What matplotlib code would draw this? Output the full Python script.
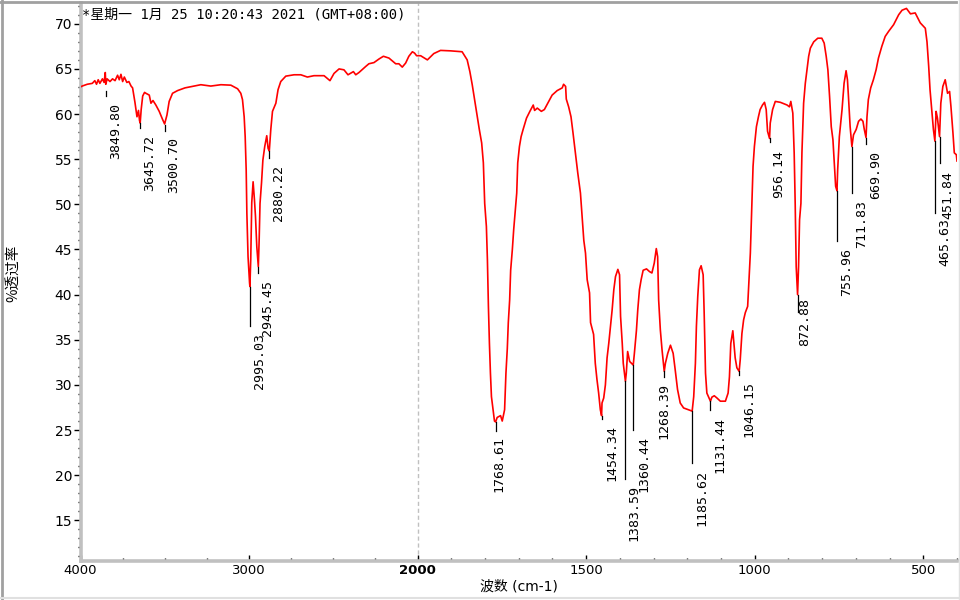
import numpy as np
import matplotlib
matplotlib.use("Agg")
import matplotlib.pyplot as plt
from matplotlib.lines import Line2D

plt.rcParams['font.family'] = ['DejaVu Sans', 'Noto Sans CJK SC']

# IR spectrum: wavenumber (cm-1) and %T
wavenumber = [
    4000, 3990, 3960, 3930, 3915, 3905, 3895, 3885, 3870, 3860, 3853, 3850,
    3842, 3825, 3810, 3795, 3780, 3770, 3760, 3750, 3740, 3725, 3713, 3700,
    3691, 3677, 3665, 3656, 3650, 3646, 3640, 3631, 3620, 3612, 3592, 3582,
    3570, 3553, 3533, 3513, 3501, 3487, 3474, 3454, 3424, 3380, 3327, 3286,
    3227, 3167, 3108, 3068, 3049, 3039, 3029, 3023, 3017, 3013, 3006, 2997,
    2995, 2990, 2984, 2976, 2968, 2962, 2954, 2945, 2940, 2935, 2926, 2918,
    2907, 2895, 2887, 2880, 2871, 2861, 2841, 2828, 2812, 2782, 2733, 2693,
    2654, 2615, 2555, 2520, 2496, 2466, 2437, 2413, 2381, 2367, 2348, 2308,
    2289, 2259, 2229, 2203, 2170, 2130, 2111, 2091, 2071, 2052, 2031, 2018,
    2006, 1991, 1971, 1952, 1932, 1902, 1868, 1853, 1845, 1838, 1831, 1823,
    1817, 1810, 1805, 1801, 1796, 1793, 1790, 1787, 1784, 1781, 1776, 1772,
    1768.6, 1764, 1754, 1749, 1742, 1738, 1734, 1731, 1727, 1724, 1719, 1715,
    1710, 1706, 1703, 1698, 1693, 1687, 1677, 1667, 1657, 1653, 1645, 1633,
    1624, 1614, 1601, 1586, 1571, 1567, 1561, 1559, 1552, 1545, 1539, 1532,
    1525, 1517, 1512, 1507, 1502, 1497, 1490, 1487, 1478, 1473, 1468, 1463,
    1458, 1454.3, 1453, 1448, 1443, 1438, 1433, 1428, 1423, 1418, 1413, 1406,
    1401, 1398, 1393, 1390, 1383.6, 1381, 1377, 1371, 1360.4, 1357, 1351, 1347,
    1342, 1337, 1331, 1321, 1312, 1305, 1298, 1292, 1288, 1285, 1280, 1275,
    1268.4, 1265, 1258, 1250, 1242, 1236, 1229, 1221, 1211, 1196, 1185.6, 1181,
    1176, 1173, 1169, 1164, 1159, 1153, 1150, 1146, 1142, 1131.4, 1127, 1120,
    1112, 1102, 1087, 1079, 1075, 1071, 1065, 1061, 1058, 1053, 1046.2, 1043,
    1038, 1033, 1028, 1021, 1017, 1013, 1008, 1005, 1001, 995, 989, 984,
    977, 971, 966, 962, 956.1, 954, 947, 939, 924, 904, 897, 893,
    887, 883, 880, 877, 872.9, 870, 867, 863, 860, 855, 850, 845,
    840, 835, 825, 813, 801, 794, 788, 783, 778, 773, 768, 764,
    760, 756, 754, 749, 741, 735, 729, 725, 722, 717, 711.8, 707,
    699, 692, 685, 679, 675, 669.9, 667, 663, 656, 648, 640, 633,
    623, 613, 603, 588, 573, 563, 550, 538, 524, 509, 494, 489,
    484, 480, 475, 470, 465.6, 462, 458, 451.8, 448, 442, 435, 428,
    422, 418, 412, 408, 402, 400,
]
transmittance = [
    63.0, 63.1, 63.3, 63.4, 63.7, 63.3, 63.8, 63.4, 63.9, 63.5, 64.6, 63.3,
    63.9, 63.6, 63.9, 63.7, 64.3, 63.8, 64.4, 63.6, 64.1, 63.5, 63.6, 63.1,
    62.9, 61.3, 59.7, 60.4, 59.3, 59.0, 60.5, 62.0, 62.4, 62.3, 62.1, 61.2,
    61.5, 61.0, 60.3, 59.4, 58.9, 59.9, 61.4, 62.3, 62.6, 62.9, 63.1, 63.25,
    63.1, 63.25, 63.2, 62.8, 62.3, 61.6, 59.7, 57.5, 53.8, 49.0, 44.2, 41.3,
    40.9, 43.9, 50.2, 52.5, 50.5, 48.7, 45.3, 43.1, 46.1, 50.1, 52.4, 54.9,
    56.4, 57.6, 56.2, 55.9, 58.3, 60.3, 61.2, 62.7, 63.6, 64.2, 64.35, 64.35,
    64.1, 64.25, 64.25, 63.7, 64.5, 65.0, 64.9, 64.35, 64.7, 64.35, 64.6, 65.27,
    65.57, 65.7, 66.1, 66.4, 66.2, 65.57, 65.57, 65.2, 65.65, 66.4, 66.9, 66.75,
    66.46, 66.46, 66.0, 66.7, 67.05, 67.0, 66.9, 66.0, 64.7, 63.25, 61.6, 59.7,
    58.3, 56.8, 54.6, 50.1, 47.55, 43.9, 38.7, 34.6, 31.3, 28.7, 27.25, 26.0,
    25.9, 26.4, 26.6, 26.0, 27.25, 31.3, 34.0, 36.9, 39.4, 42.7, 45.0, 47.2,
    49.4, 51.25, 54.6, 56.4, 57.5, 58.3, 59.55, 60.3, 61.0, 60.4, 60.66, 60.3,
    60.5, 61.2, 62.1, 62.6, 62.9, 63.3, 63.06, 61.66, 60.8, 59.7, 57.9, 55.7,
    53.5, 51.25, 48.7, 46.0, 44.6, 41.65, 40.2, 36.9, 35.6, 32.4, 30.6, 29.1,
    27.25, 26.6, 28.0, 28.55, 30.0, 33.0, 34.6, 36.5, 38.3, 40.55, 42.0, 42.8,
    42.2, 37.6, 34.6, 32.4, 30.4, 31.3, 33.7, 32.6, 32.2, 33.5, 36.0, 38.3,
    40.55, 41.65, 42.7, 42.85, 42.55, 42.4, 43.5, 45.1, 44.2, 39.4, 36.1, 33.9,
    31.5, 32.4, 33.5, 34.4, 33.5, 31.7, 29.5, 28.0, 27.45, 27.25, 27.1, 28.7,
    32.4, 36.5, 39.8, 42.75, 43.2, 42.2, 38.0, 31.3, 29.1, 28.2, 28.65, 28.8,
    28.55, 28.2, 28.2, 29.1, 30.9, 34.6, 36.0, 34.25, 33.0, 31.9, 31.5, 32.8,
    35.7, 37.2, 38.0, 38.7, 41.65, 44.6, 50.5, 54.2, 56.4, 58.6, 59.7, 60.5,
    61.0, 61.3, 60.5, 58.1, 57.3, 59.0, 60.5, 61.4, 61.3, 61.0, 60.8, 61.4,
    60.1, 55.7, 50.1, 43.1, 40.0, 43.1, 48.3, 50.1, 55.7, 61.2, 63.4, 64.9,
    66.4, 67.3, 68.0, 68.4, 68.4, 67.86, 66.4, 64.9, 61.95, 58.6, 57.15, 54.6,
    52.0, 51.5, 53.8, 57.5, 60.5, 63.4, 64.8, 63.8, 61.95, 58.6, 56.4, 57.7,
    58.3, 59.2, 59.45, 59.2, 58.3, 57.4, 59.7, 61.6, 62.9, 63.8, 64.9, 66.2,
    67.5, 68.6, 69.15, 69.9, 71.0, 71.5, 71.7, 71.1, 71.2, 70.1, 69.5, 68.0,
    65.3, 62.7, 60.5, 58.3, 57.0, 60.3, 59.55, 57.5, 61.2, 63.06, 63.8, 62.3,
    62.5, 60.85, 57.9, 55.7, 55.5, 54.8,
]

# peak picks: position, %T at the pick, end of the marker line, top of the label
peak_wn = [3849.80, 3645.72, 3500.70, 2995.03, 2945.45, 2880.22, 1768.61,
           1454.34, 1383.59, 1360.44, 1268.39, 1185.62, 1131.44, 1046.15,
           956.14, 872.88, 755.96, 711.83, 669.90, 465.63, 451.84]
peak_t = [62.6, 59.0, 58.8, 40.9, 43.1, 55.9, 25.9, 26.6, 30.4, 32.2, 31.5,
          27.1, 28.2, 31.5, 57.3, 40.0, 51.5, 56.4, 57.4, 57.0, 57.5]
line_end = [62.0, 58.5, 58.1, 36.5, 42.4, 55.1, 24.9, 26.2, 19.6, 25.0, 30.9,
            21.35, 27.25, 31.1, 56.85, 38.1, 45.9, 51.25, 56.7, 49.0, 54.6]
label_top = [61.2, 57.7, 57.5, 35.8, 41.65, 54.4, 24.3, 25.6, 18.9, 24.3, 30.2,
             20.6, 26.5, 30.4, 56.0, 39.6, 45.2, 50.5, 55.9, 48.5, 53.65]
label_dx = [3, 3, 3, 3, 3, 3, -3, 4, 2, 4, -7, 3, 3, 3, 3, 1, 3, 3, 3, 3, 2]

x_major = [4000, 3000, 2000, 1500, 1000, 500]
x_minor = [3750, 3500, 3250, 2750, 2500, 2250] + \
          [v for v in range(1900, 399, -100) if v not in x_major]
title = "*星期一 1月 25 10:20:43 2021 (GMT+08:00)"


def fwd(w):
    # below 2000 cm-1 the axis is expanded two times
    w = np.asarray(w, dtype=float)
    return np.where(w > 2000, 2000 + (w - 2000) / 2, w)


def inv(u):
    u = np.asarray(u, dtype=float)
    return np.where(u > 2000, 2000 + (u - 2000) * 2, u)


fig = plt.figure(figsize=(9.6, 6), dpi=100)
ax = fig.add_axes([80.5 / 960, 39 / 600, 876.5 / 960, 558 / 600])
ax.set_xscale('function', functions=(fwd, inv))
ax.set_xlim(4000, 400)
ax.set_ylim(10.5, 72.3)

ax.axvline(2000, color='#c0c0c0', lw=1, ls=(0, (3, 2)), zorder=1)
ax.plot(wavenumber, transmittance, color='#ff0000', lw=1.2, zorder=3)

for w, t0, t1, ty, dx in zip(peak_wn, peak_t, line_end, label_top, label_dx):
    ax.plot([w, w], [t0, t1], color='black', lw=0.9, zorder=4)
    ax.annotate(f"{w:.2f}", xy=(w, ty), xytext=(dx * 0.72, 0),
                textcoords='offset points', rotation=90, ha='left', va='top',
                fontsize=9.5, family='DejaVu Sans Mono', color='black')

for side in ('top', 'right'):
    ax.spines[side].set_visible(False)
for side in ('left', 'bottom'):
    ax.spines[side].set_color('#c0c0c0')
    ax.spines[side].set_linewidth(2.6)

ax.set_xticks(x_major)
ax.set_xticklabels([str(v) for v in x_major])
ax.set_xticks(x_minor, minor=True)
for lab in ax.get_xticklabels():
    if lab.get_text() == '2000':
        lab.set_fontweight('bold')
ax.set_yticks(range(15, 71, 5))
ax.set_yticks(range(11, 73), minor=True)
ax.tick_params(axis='x', which='major', direction='in', length=4, width=1,
               labelsize=9.5, pad=2)
ax.tick_params(axis='x', which='minor', direction='in', length=2, width=1)
ax.tick_params(axis='y', which='major', direction='out', length=5, width=1,
               labelsize=10, pad=1)
ax.tick_params(axis='y', which='minor', direction='out', length=2, width=1)

ax.set_xlabel("波数 (cm-1)", fontsize=10, labelpad=2,
              family=['DejaVu Sans', 'Noto Sans CJK SC'])
ax.set_ylabel("%透过率", fontsize=10.5,
              family=['Noto Sans CJK SC', 'DejaVu Sans'])
ax.yaxis.set_label_coords(-0.069, 0.515)

ax.annotate(title, xy=(0, 1), xycoords='axes fraction', xytext=(1, -3),
            textcoords='offset points', ha='left', va='top', fontsize=10,
            family=['DejaVu Sans Mono', 'Noto Sans CJK SC'])

# window frame
fig.add_artist(Line2D([0.0016, 0.0016], [0, 1], transform=fig.transFigure,
                      color='#a0a0a0', lw=2))
fig.add_artist(Line2D([0, 0.996], [0.9975, 0.9975], transform=fig.transFigure,
                      color='#a0a0a0', lw=2))
fig.add_artist(Line2D([0.9985, 0.9985], [0, 1], transform=fig.transFigure,
                      color='#e0e0e0', lw=1))
fig.add_artist(Line2D([0, 1], [0.004, 0.004], transform=fig.transFigure,
                      color='#e0e0e0', lw=1.5))

fig.savefig('out.png', dpi=100)
